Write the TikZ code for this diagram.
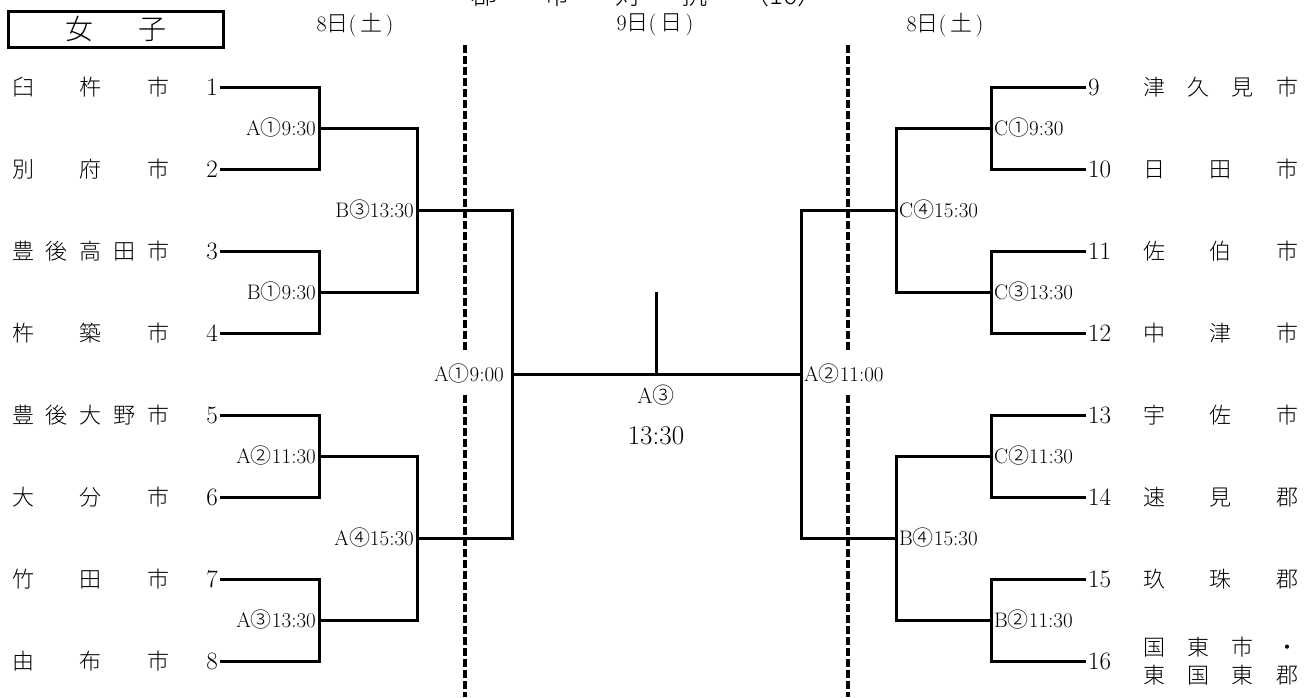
\documentclass[tikz,border=0pt]{standalone}
\usepackage{fontspec}
\newfontfamily\jp{Noto Sans CJK JP Light}
\usetikzlibrary{positioning}
\newcommand{\cn}[1]{{\jp #1}}
\tikzset{
  bline/.style={line width=3pt},
  divider/.style={line width=3.2pt,dash pattern=on 8pt off 3pt},
  team/.style={font=\jp\fontsize{22}{28}\selectfont,inner sep=0pt,align=left},
  num/.style={font=\fontsize{25}{27}\selectfont,inner sep=2pt},
  lbl/.style={font=\fontsize{21}{24}\selectfont,inner sep=3pt},
  hdr/.style={font=\fontsize{22}{24}\selectfont,inner sep=0pt},
}
\begin{document}
\begin{tikzpicture}[x=1pt,y=-1pt]
\useasboundingbox (0,0) rectangle (1313,697);
% title, cut off by the page edge
\node[font=\fontsize{26}{30}\selectfont,anchor=base west,inner sep=0pt] (title) at (471,4)
  {\jp 郡\hspace{47pt}市\hspace{45pt}対\hspace{40pt}抗\hspace{36pt}（16）};
\node[draw,line width=2.6pt,minimum width=215pt,minimum height=36pt,anchor=north west,
      font=\jp\fontsize{28}{30}\selectfont] (girls) at (7,10) {女\hspace{1.6em}子};
% days
\node[hdr] (day1) at (355,25) {8{\jp 日}(\,{\jp 土}\,)};
\node[hdr] (day2) at (655,25) {9{\jp 日}(\,{\jp 日}\,)};
\node[hdr] (day3) at (945,25) {8{\jp 日}(\,{\jp 土}\,)};
% dividers
\draw[divider] (465,45) -- (465,352) (465,395) -- (465,697);
\draw[divider] (848,45) -- (848,352) (848,395) -- (848,697);
% teams, left
\foreach \i/\name in {1/臼\hfill 杵\hfill 市,2/別\hfill 府\hfill 市,
    3/豊\hfill 後\hfill 高\hfill 田\hfill 市,4/杵\hfill 築\hfill 市,
    5/豊\hfill 後\hfill 大\hfill 野\hfill 市,6/大\hfill 分\hfill 市,
    7/竹\hfill 田\hfill 市,8/由\hfill 布\hfill 市}{
  \pgfmathsetmacro{\y}{5+82*\i}
  \node[team,anchor=west] (t\i) at (12,\y) {\makebox[157pt][l]{\name}};
  \node[num,anchor=east] (n\i) at (220,\y) {\i};
}
% teams, right
\foreach \i/\name in {9/津\hfill 久\hfill 見\hfill 市,10/日\hfill 田\hfill 市,
    11/佐\hfill 伯\hfill 市,12/中\hfill 津\hfill 市,13/宇\hfill 佐\hfill 市,
    14/速\hfill 見\hfill 郡,15/玖\hfill 珠\hfill 郡}{
  \pgfmathsetmacro{\y}{5+82*(\i-8)}
  \node[team,anchor=west] (t\i) at (1143,\y) {\makebox[155pt][l]{\name}};
  \node[num,anchor=west] (n\i) at (1086,\y) {\i};
}
\node[team,anchor=west] (t16) at (1143,661)
  {\makebox[155pt][l]{国\hfill 東\hfill 市\hfill ・}\\\makebox[155pt][l]{東\hfill 国\hfill 東\hfill 郡}};
\node[num,anchor=west] (n16) at (1086,661) {16};
% matches, left
\node[lbl,anchor=east] (lA1) at (319,128) {A\cn{①}9:30};
\node[lbl,anchor=east] (lB1) at (319,292) {B\cn{①}9:30};
\node[lbl,anchor=east] (lA2) at (319,456) {A\cn{②}11:30};
\node[lbl,anchor=east] (lA3) at (319,620) {A\cn{③}13:30};
\node[lbl,anchor=east] (lB3) at (417,210) {B\cn{③}13:30};
\node[lbl,anchor=east] (lA4) at (417,538) {A\cn{④}15:30};
\node[lbl,anchor=east,inner sep=8pt] (fA1) at (512,374) {A\cn{①}9:00};
% matches, right
\node[lbl,anchor=west] (rC1) at (991,128) {C\cn{①}9:30};
\node[lbl,anchor=west] (rC3) at (991,292) {C\cn{③}13:30};
\node[lbl,anchor=west] (rC2) at (991,456) {C\cn{②}11:30};
\node[lbl,anchor=west] (rB2) at (991,620) {B\cn{②}11:30};
\node[lbl,anchor=west] (rC4) at (896,210) {C\cn{④}15:30};
\node[lbl,anchor=west] (rB4) at (896,538) {B\cn{④}15:30};
\node[lbl,anchor=west] (fA2) at (801,374) {A\cn{②}11:00};
% final
\coordinate (top) at (656,292);
\node[lbl,font=\fontsize{22}{24}\selectfont] (fA3) at (656,395) {A\cn{③}};
\node[lbl,font=\fontsize{27}{29}\selectfont] (ftime) at (656,436) {13:30};
% brackets
\draw[bline] (n1.east) -| (lA1.east) |- (n2.east);
\draw[bline] (n3.east) -| (lB1.east) |- (n4.east);
\draw[bline] (n5.east) -| (lA2.east) |- (n6.east);
\draw[bline] (n7.east) -| (lA3.east) |- (n8.east);
\draw[bline] (lA1.east) -| (lB3.east) |- (lB1.east);
\draw[bline] (lA2.east) -| (lA4.east) |- (lA3.east);
\draw[bline] (lB3.east) -| (fA1.east) |- (lA4.east);
\draw[bline] (n9.west) -| (rC1.west) |- (n10.west);
\draw[bline] (n11.west) -| (rC3.west) |- (n12.west);
\draw[bline] (n13.west) -| (rC2.west) |- (n14.west);
\draw[bline] (n15.west) -| (rB2.west) |- (n16.west);
\draw[bline] (rC1.west) -| (rC4.west) |- (rC3.west);
\draw[bline] (rC2.west) -| (rB4.west) |- (rB2.west);
\draw[bline] (rC4.west) -| (fA2.west) |- (rB4.west);
\draw[bline] (fA1.east) -- (fA2.west);
\draw[bline] (top) -- (top |- fA1.east);
\end{tikzpicture}
\end{document}
